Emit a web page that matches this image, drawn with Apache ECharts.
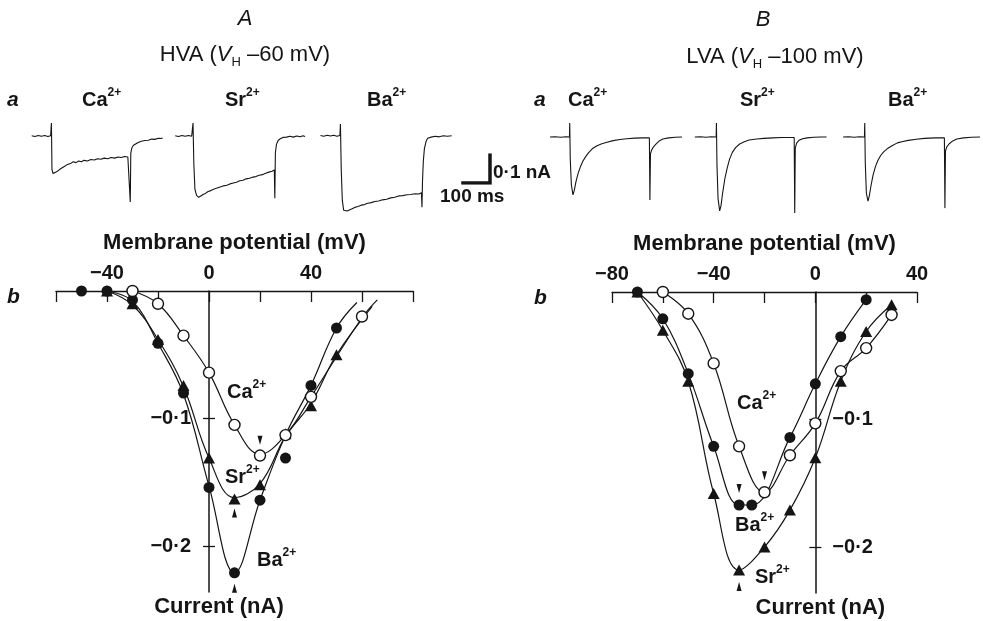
<!DOCTYPE html>
<html><head><meta charset="utf-8">
<script src="https://cdn.jsdelivr.net/npm/echarts@6/dist/echarts.min.js"></script>
<style>html,body{margin:0;padding:0;background:#fff}#c{width:983px;height:621px}</style>
</head><body><div id="c"></div>
<script>
// ===== I-V data, panel A (HVA, VH -60 mV): [membrane potential mV, current nA]
const hvaCaPts = [[-30,0],[-20,-0.010],[-10,-0.035],[0,-0.064],[10,-0.105],[20,-0.129],[30,-0.113],[40,-0.083],[60,-0.020]];
const hvaSrPts = [[-40,0],[-30,-0.010],[-20,-0.038],[-10,-0.074],[0,-0.131],[10,-0.163],[20,-0.152],[30,-0.112],[40,-0.090],[50,-0.050]];
const hvaBaPts = [[-50,0],[-40,0],[-30,-0.007],[-20,-0.041],[-10,-0.080],[0,-0.154],[10,-0.221],[20,-0.164],[30,-0.131],[40,-0.074],[50,-0.029]];
// fitted curves as drawn
const hvaCaFit = [[-30,0],[-20,-0.010],[-10,-0.035],[0,-0.064],[10,-0.105],[20,-0.128],[30,-0.113],[40,-0.083],[60,-0.021],[66,-0.007]];
const hvaSrFit = [[-40,0],[-30,-0.011],[-20,-0.038],[-10,-0.075],[0,-0.131],[10,-0.162],[20,-0.151],[30,-0.114],[40,-0.088],[50,-0.050],[64,-0.012]];
const hvaBaFit = [[-40,0],[-30,-0.008],[-20,-0.041],[-10,-0.081],[0,-0.153],[10,-0.221],[20,-0.164],[30,-0.113],[40,-0.074],[50,-0.029],[58,-0.009]];
// peak markers
const hvaPeakDown = [[20,-0.117]];
const hvaPeakUp = [[10,-0.174],[10,-0.233]];

// ===== I-V data, panel B (LVA, VH -100 mV)
const lvaCaPts = [[-60,0],[-50,-0.017],[-40,-0.056],[-30,-0.121],[-20,-0.157],[-10,-0.128],[0,-0.103],[10,-0.062],[20,-0.044],[30,-0.018]];
const lvaBaPts = [[-70,0],[-60,-0.021],[-50,-0.064],[-40,-0.121],[-30,-0.167],[-25,-0.167],[-10,-0.114],[0,-0.072],[10,-0.035],[20,-0.006]];
const lvaSrPts = [[-70,0],[-60,-0.030],[-50,-0.070],[-40,-0.158],[-30,-0.218],[-20,-0.200],[-10,-0.171],[0,-0.130],[10,-0.070],[20,-0.031],[30,-0.010]];
const lvaPeakDown = [[-20,-0.144],[-30,-0.154]];
const lvaPeakUp = [[-30,-0.231]];

// ===== axis ticks
const hvaXLabels = [-40,0,40];
const lvaXLabels = [-80,-40,0,40];
const yTickValues = [-0.1,-0.2];

// ===== current traces: [time from pulse onset ms, current nA]
const traceHvaCa = [[-74,0.001],[-62,-0.002],[-50,0.002],[-38,-0.001],[-26,0.002],[-14,-0.002],[-4,0.001],[-1,0.046],[1,-0.12],[5,-0.134],[11,-0.137],[18,-0.128],[25,-0.124],[33,-0.117],[40,-0.113],[48,-0.108],[56,-0.103],[63,-0.099],[72,-0.097],[80,-0.092],[90,-0.095],[100,-0.089],[110,-0.092],[120,-0.087],[132,-0.089],[145,-0.084],[158,-0.086],[170,-0.081],[182,-0.083],[195,-0.079],[208,-0.081],[220,-0.077],[233,-0.079],[246,-0.075],[258,-0.077],[270,-0.073],[282,-0.075],[289,-0.071],[291,-0.236],[293,-0.06],[297,-0.042],[303,-0.033],[310,-0.027],[320,-0.023],[332,-0.019],[345,-0.016],[358,-0.015],[370,-0.011],[382,-0.012],[395,-0.008],[405,-0.009],[411,-0.007]];
const traceHvaSr = [[-67,0.001],[-55,-0.002],[-42,0.002],[-30,-0.001],[-18,0.002],[-6,-0.001],[-1,0.046],[2,-0.1],[6,-0.19],[12,-0.212],[20,-0.219],[28,-0.214],[36,-0.209],[45,-0.205],[55,-0.198],[65,-0.195],[75,-0.19],[88,-0.186],[100,-0.182],[112,-0.178],[124,-0.176],[136,-0.171],[148,-0.168],[160,-0.165],[172,-0.16],[184,-0.158],[196,-0.153],[208,-0.151],[220,-0.147],[232,-0.145],[244,-0.14],[256,-0.138],[268,-0.133],[280,-0.129],[292,-0.126],[300,-0.121],[302,-0.222],[304,-0.06],[308,-0.03],[314,-0.016],[322,-0.01],[332,-0.005],[345,-0.004],[358,-0.001],[370,-0.004],[383,0],[396,-0.003],[406,0.001],[414,-0.002]];
const traceHvaBa = [[-75,0.002],[-63,-0.001],[-50,0.003],[-38,0],[-26,0.003],[-14,-0.001],[-3,0.002],[-1,0.043],[2,-0.12],[6,-0.23],[11,-0.265],[16,-0.271],[24,-0.268],[32,-0.264],[42,-0.26],[52,-0.255],[64,-0.252],[76,-0.247],[88,-0.245],[100,-0.24],[113,-0.238],[126,-0.234],[140,-0.232],[155,-0.228],[170,-0.226],[185,-0.221],[200,-0.219],[215,-0.214],[230,-0.213],[245,-0.21],[260,-0.209],[275,-0.206],[290,-0.207],[299,-0.203],[301,-0.254],[303,-0.16],[306,-0.09],[310,-0.045],[316,-0.02],[322,-0.008],[335,-0.004],[350,-0.001],[365,-0.003],[380,0.001],[395,-0.001],[411,0.001]];
const traceLvaCa = [[-74,0],[-55,0.001],[-35,-0.001],[-15,0.001],[-2,0],[-1,0.05],[1,-0.08],[5,-0.17],[11,-0.207],[16,-0.19],[22,-0.16],[30,-0.13],[39,-0.105],[48,-0.086],[58,-0.07],[70,-0.055],[85,-0.04],[100,-0.031],[118,-0.024],[137,-0.019],[160,-0.013],[185,-0.009],[210,-0.006],[240,-0.004],[270,-0.003],[294,-0.003],[296,-0.225],[298,-0.06],[303,-0.045],[310,-0.034],[320,-0.024],[332,-0.013],[344,-0.007],[365,-0.003],[390,-0.001],[415,0]];
const traceLvaSr = [[-81,0],[-60,0.001],[-40,-0.001],[-20,0.001],[-2,0],[-1,0.05],[1,-0.1],[5,-0.22],[11,-0.264],[16,-0.245],[22,-0.2],[30,-0.15],[39,-0.11],[48,-0.078],[58,-0.055],[70,-0.038],[85,-0.025],[100,-0.018],[120,-0.011],[148,-0.007],[175,-0.005],[207,-0.003],[240,-0.002],[270,-0.002],[287,-0.002],[289,-0.271],[291,-0.04],[296,-0.022],[305,-0.012],[318,-0.006],[335,-0.003],[360,-0.001],[385,0],[407,0]];
const traceLvaBa = [[-81,0],[-60,0.001],[-40,-0.001],[-20,0.001],[-2,0],[-1,0.05],[1,-0.09],[5,-0.2],[11,-0.229],[16,-0.21],[22,-0.175],[30,-0.135],[39,-0.105],[48,-0.083],[58,-0.066],[70,-0.052],[85,-0.04],[100,-0.031],[120,-0.021],[140,-0.016],[160,-0.012],[190,-0.008],[220,-0.005],[260,-0.003],[294,-0.003],[296,-0.254],[298,-0.05],[303,-0.035],[312,-0.024],[325,-0.014],[340,-0.007],[365,-0.003],[395,-0.001],[426,0]];
// scale bar: 100 ms x 0.1 nA
const scaleBar = [[0,-0.1],[100,-0.1],[100,0]];

// ================= rendering =================
const FONT = '"Liberation Sans", Arial, Helvetica, sans-serif';
const INK = '#151515';
const minus = v => (v < 0 ? '\u2212' : '') + Math.abs(v);
const yFmt = v => '\u2212' + Math.abs(v).toFixed(1).replace('.', '\u00b7');
const YMIN = -0.236;

const PX_MS = 0.27, PX_NA = 280, T0 = -85, T1 = 430, I0 = -0.28, I1 = 0.06;
const traceSlots = [[51.7,136],[193.3,136],[340.7,136],[570,137],[716.7,137],[865,137]];
const traces = [traceHvaCa, traceHvaSr, traceHvaBa, traceLvaCa, traceLvaSr, traceLvaBa];

const ivA = {left:56, top:291, width:357, height:301, xmin:-60, xmax:80};
const ivB = {left:612, top:292, width:305, height:301, xmin:-80, xmax:40};
const zeroX = g => g.left + (0 - g.xmin) / (g.xmax - g.xmin) * g.width;

const grid = [
  {left:ivA.left, top:ivA.top, width:ivA.width, height:ivA.height},
  {left:ivB.left, top:ivB.top, width:ivB.width, height:ivB.height}
];
traceSlots.forEach(([ox, by]) => grid.push({left: ox + T0*PX_MS, top: by - I1*PX_NA, width:(T1-T0)*PX_MS, height:(I1-I0)*PX_NA}));
grid.push({left:463, top:155, width:27, height:28});
// grids whose left edge is the 0 mV line, carrying the current axes
grid.push({left:zeroX(ivA), top:ivA.top, width:ivA.left + ivA.width - zeroX(ivA), height:ivA.height});
grid.push({left:zeroX(ivB), top:ivB.top, width:ivB.left + ivB.width - zeroX(ivB), height:ivB.height});

function ivX(gi, min, max, labels) {
  return {type:'value', gridIndex:gi, min, max, interval:20, position:'top',
    axisLine:{onZero:false, lineStyle:{color:INK, width:1.4}},
    axisTick:{inside:true, length:11, lineStyle:{color:INK, width:1.3}},
    axisLabel:{margin:8, color:INK, fontFamily:FONT, fontSize:20, fontWeight:'bold',
      formatter: v => labels.includes(v) ? minus(v) : ''},
    splitLine:{show:false},
    name:'Membrane potential (mV)', nameLocation:'middle', nameGap:37,
    nameTextStyle:{color:INK, fontFamily:FONT, fontSize:22, fontWeight:'bold'}};
}
function currentAxes(gi, labelInside, margin, pad) {
  return [{type:'value', gridIndex:gi, min:YMIN, max:0, position:'left',
    axisLine:{show:true, onZero:false, lineStyle:{color:INK, width:1.5}},
    axisTick:{show:true, inside:false, length:6, customValues:yTickValues, lineStyle:{color:INK, width:1.3}},
    axisLabel:{customValues:yTickValues, inside:labelInside, margin, color:INK, fontFamily:FONT, fontSize:20, fontWeight:'bold', formatter:yFmt},
    splitLine:{show:false},
    name:'Current (nA)', nameLocation:'start', nameGap:4,
    nameTextStyle:{color:INK, fontFamily:FONT, fontSize:22, fontWeight:'bold', padding:[0,0,0,pad]}},
   {type:'value', gridIndex:gi, min:YMIN, max:0, position:'left',
    axisLine:{show:false, onZero:false},
    axisTick:{show:true, inside:true, length:6, customValues:yTickValues, lineStyle:{color:INK, width:1.3}},
    axisLabel:{show:false}, splitLine:{show:false}}];
}

const xAxis = [ivX(0,ivA.xmin,ivA.xmax,hvaXLabels), ivX(1,ivB.xmin,ivB.xmax,lvaXLabels)];
const yAxis = [
  {type:'value', gridIndex:0, min:YMIN, max:0, show:false},
  {type:'value', gridIndex:1, min:YMIN, max:0, show:false}
];
for (let k = 0; k < 6; k++) {
  xAxis.push({type:'value', gridIndex:2+k, min:T0, max:T1, show:false});
  yAxis.push({type:'value', gridIndex:2+k, min:I0, max:I1, show:false});
}
xAxis.push({type:'value', gridIndex:8, min:0, max:100, show:false});
yAxis.push({type:'value', gridIndex:8, min:-0.1, max:0, show:false});
xAxis.push({type:'value', gridIndex:9, min:0, max:1, show:false});
xAxis.push({type:'value', gridIndex:10, min:0, max:1, show:false});
yAxis.push(...currentAxes(9, false, 18, 20), ...currentAxes(10, true, 17, 10));

const series = [];
const curve = (data, xi, yi) => series.push({type:'line', data, xAxisIndex:xi, yAxisIndex:yi, smooth:0.4, showSymbol:false, silent:true, lineStyle:{color:INK, width:1.2}, z:2});
const marks = (data, xi, yi, kind) => series.push({type:'scatter', data, xAxisIndex:xi, yAxisIndex:yi, silent:true,
  symbol: kind === 'tri' ? 'triangle' : 'circle', symbolSize: kind === 'tri' ? [12,11] : 11,
  itemStyle: kind === 'open' ? {color:'#fff', borderColor:INK, borderWidth:1.4, opacity:1} : {color:INK, opacity:1},
  z: kind === 'open' ? 5 : (kind === 'tri' ? 3 : 4)});
const arrows = (data, xi, yi, down) => series.push({type:'scatter', data, xAxisIndex:xi, yAxisIndex:yi, silent:true,
  symbol:'triangle', symbolSize:[5,9], symbolRotate: down ? 180 : 0, itemStyle:{color:INK, opacity:1}, z:6});

curve(hvaCaFit,0,0); curve(hvaSrFit,0,0); curve(hvaBaFit,0,0);
marks(hvaSrPts,0,0,'tri'); marks(hvaBaPts,0,0,'fill'); marks(hvaCaPts,0,0,'open');
arrows(hvaPeakDown,0,0,true); arrows(hvaPeakUp,0,0,false);
curve(lvaCaPts,1,1); curve(lvaSrPts,1,1); curve(lvaBaPts,1,1);
marks(lvaSrPts,1,1,'tri'); marks(lvaBaPts,1,1,'fill'); marks(lvaCaPts,1,1,'open');
arrows(lvaPeakDown,1,1,true); arrows(lvaPeakUp,1,1,false);
traces.forEach((d, k) => series.push({type:'line', data:d, xAxisIndex:2+k, yAxisIndex:2+k, showSymbol:false, silent:true, lineStyle:{color:INK, width:1.1}}));
series.push({type:'line', data:scaleBar, xAxisIndex:8, yAxisIndex:8, showSymbol:false, silent:true, lineStyle:{color:INK, width:3.5, cap:'square', join:'miter'}});

const rich = {
  m:{fontFamily:FONT, fontSize:20, fontWeight:'bold', lineHeight:26, fill:INK, color:INK},
  s:{fontFamily:FONT, fontSize:12, fontWeight:'bold', lineHeight:14, verticalAlign:'top', fill:INK, color:INK},
  t:{fontFamily:FONT, fontSize:22, lineHeight:28, fill:INK, color:INK},
  ti:{fontFamily:FONT, fontSize:22, fontStyle:'italic', lineHeight:28, fill:INK, color:INK},
  sub:{fontFamily:FONT, fontSize:13, lineHeight:20, verticalAlign:'bottom', fill:INK, color:INK},
  L:{fontFamily:FONT, fontSize:22, fontStyle:'italic', lineHeight:28, fill:INK, color:INK},
  p:{fontFamily:FONT, fontSize:21, fontStyle:'italic', fontWeight:'bold', lineHeight:26, fill:INK, color:INK},
  sc:{fontFamily:FONT, fontSize:19, fontWeight:'bold', lineHeight:24, fill:INK, color:INK}
};
const T = (x, y, text, align) => ({type:'text', x, y, silent:true, style:{text, rich, fill:INK,
  align: align || 'left', verticalAlign:'middle', textAlign: align || 'left', textVerticalAlign:'middle'}});
const ion = n => '{m|' + n + '}{s|2+}';
const graphic = [
  T(245,19,'{L|A}','center'),
  T(245,55,'{t|HVA (}{ti|V}{sub|H}{t| \u201360 mV)}','center'),
  T(763,20,'{L|B}','center'),
  T(775,57,'{t|LVA (}{ti|V}{sub|H}{t| \u2013100 mV)}','center'),
  T(7,100,'{p|a}'), T(534,100,'{p|a}'),
  T(7,297,'{p|b}'), T(534,298,'{p|b}'),
  T(82,100,ion('Ca')), T(225,100,ion('Sr')), T(367,100,ion('Ba')),
  T(568,100,ion('Ca')), T(740,100,ion('Sr')), T(888,100,ion('Ba')),
  T(493,173,'{sc|0\u00b71 nA}'), T(440,197,'{sc|100 ms}'),
  T(227,392,ion('Ca')), T(225,477,ion('Sr')), T(257,560,ion('Ba')),
  T(737,403,ion('Ca')), T(735,525,ion('Ba')), T(755,577,ion('Sr'))
];

const chart = echarts.init(document.getElementById('c'), null, {renderer:'canvas'});
chart.setOption({animation:false, backgroundColor:'#fff', grid, xAxis, yAxis, series, graphic});
</script></body></html>
